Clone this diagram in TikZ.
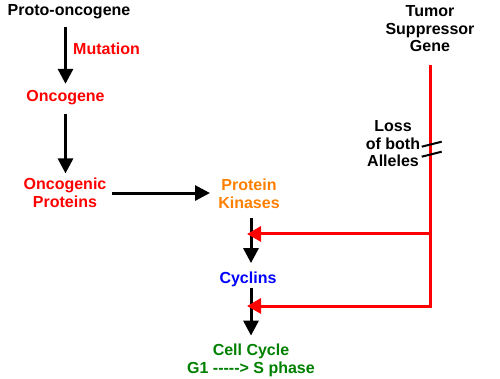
\documentclass[tikz,border=0pt]{standalone}
\usepackage{fontspec}
\setmainfont{Liberation Sans}
\usetikzlibrary{arrows.meta}
\definecolor{cred}{RGB}{255,0,0}
\definecolor{corange}{RGB}{255,128,0}
\definecolor{cblue}{RGB}{0,0,255}
\definecolor{cgreen}{RGB}{0,128,0}
\newcommand{\hy}{-\kern0pt}
\begin{document}
\begin{tikzpicture}[x=1pt,y=-1pt,
  lbl/.style={inner sep=0pt, outer sep=0pt, align=center, anchor=base,
    font=\fontsize{16}{17.5}\selectfont\bfseries},
  arr/.style={line width=3pt, -{Triangle[length=15pt,width=15pt]}},
  redarr/.style={cred, line width=3pt, -{Triangle[length=14pt,width=15pt]}},
  redline/.style={cred, line width=3pt},
  brk/.style={black, line width=2pt}]
\useasboundingbox (0,0) rectangle (500,379);
% nodes (anchor base = baseline of last line)
\node[lbl] (proto) at (69,16) {Proto-oncogene};
\node[lbl, text=cred] (mut) at (106.5,55) {Mutation};
\node[lbl, text=cred] (onco) at (65.5,102) {Oncogene};
\node[lbl, text=cred] (op) at (65,207.5) {Oncogenic\\Proteins};
\node[lbl, text=corange] (pk) at (249,208.5) {Protein\\Kinases};
\node[lbl, text=cblue] (cy) at (248,283) {Cyclins};
\node[lbl, text=cgreen] (cc) at (251,373) {Cell Cycle\\G1 \hy\hy\hy\hy\hy> S phase};
\node[lbl] (tsg) at (430,52) {Tumor\\Suppressor\\Gene};
\node[lbl] (loss) at (393,167) {Loss\\of both\\Alleles};
% black arrows
\draw[arr, shorten <=7.5pt, shorten >=7pt] (proto.south -| onco.north) -- (onco.north);
\draw[arr, shorten <=8.5pt, shorten >=5pt] (onco.south) -- (onco.south |- op.north);
\draw[arr, shorten <=5.7pt, shorten >=8.3pt] (op.east) -- (op.east -| pk.west);
\draw[arr, shorten <=9pt, shorten >=8.3pt] (pk.south -| cc.north) -- (cy.north -| cc.north);
\draw[arr, shorten <=1.6pt, shorten >=8.3pt] (cy.south -| cc.north) -- (cc.north);
% red inhibitory path
\coordinate (r1) at (430,234);
\coordinate (r2) at (430,306);
\coordinate (t1) at (247,234);
\coordinate (t2) at (247,306);
\draw[redline, shorten <=13pt] (tsg.south) -- (r2);
\draw[redarr] (r1) -- (t1);
\draw[redarr] ([xshift=1.5pt]r2) -- (t2);
% break marks (loss of both alleles)
\coordinate (bk) at (431.7,149);
\draw[brk] ([shift={(-10,-2.3)}]bk) -- ([shift={(10,-7.3)}]bk);
\draw[brk] ([shift={(-10,7.7)}]bk) -- ([shift={(10,2.7)}]bk);
\end{tikzpicture}
\end{document}
